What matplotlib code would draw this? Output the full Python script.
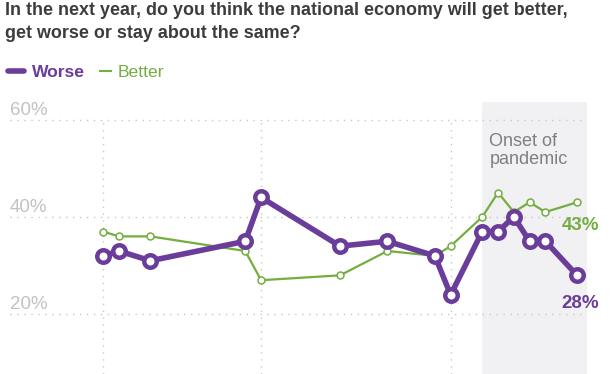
import matplotlib
matplotlib.use("Agg")
import matplotlib.pyplot as plt
from matplotlib.lines import Line2D

plt.rcParams['font.family'] = ['Liberation Sans', 'DejaVu Sans']

# Survey waves (months from first wave) and shares of respondents
months = [0, 1, 3, 9, 10, 15, 18, 21, 22, 24, 25, 26, 27, 28, 30]
worse = [32, 33, 31, 35, 44, 34, 35, 32, 24, 37, 37, 40, 35, 35, 28]
better = [37, 36, 36, 33, 27, 28, 33, 32, 34, 40, 45, 41, 43, 41, 43]
pandemic_start = 24
y_ticks = [20, 40, 60]
y_tick_labels = ['20%', '40%', '60%']
year_lines = [0, 10, 22]
title_lines = ['In the next year, do you think the national economy will get better,',
               'get worse or stay about the same?']

PURPLE = '#6a3d9a'
GREEN = '#74ad40'
GRID = '#c8c8c8'

W, H = 612, 374
fig = plt.figure(figsize=(W / 100, H / 100), dpi=100)


def fx(px):
    return px / W


def fy(py):
    return 1 - py / H


# axes: x 10..587 px, y 102..374 px
ax = fig.add_axes([fx(10), 0, fx(587) - fx(10), 1 - 102 / H])
ax.set_xlim(-5.89, 30.63)
ax.set_ylim(7.74, 63.6)
ax.axis('off')

# pandemic shading
ax.axvspan(pandemic_start, 31, color='#f1f1f4', zorder=0, lw=0)
ax.text(pandemic_start + 0.45, 50.9, 'Onset of\npandemic', fontsize=13,
        color='#7f7f7f', ha='left', va='baseline', linespacing=1.05)

# gridlines
for v, lab in zip(y_ticks, y_tick_labels):
    ax.axhline(v, color=GRID, lw=1, ls=(0, (1, 4)), zorder=1)
    ax.annotate(lab, (-5.89, v), xytext=(0, 3.5), textcoords='offset points',
                fontsize=13.5, color='#c2c2c2', ha='left', va='baseline')
ax.vlines(year_lines, 7.74, 60, color=GRID, lw=1, ls=(0, (1, 4)), zorder=1)

# series
ax.plot(months, better, color=GREEN, lw=1.6, marker='o', ms=5,
        mfc='white', mec=GREEN, mew=1.1, zorder=3)
ax.plot(months, worse, color=PURPLE, lw=4, marker='o', ms=9,
        mfc='white', mec=PURPLE, mew=3.2, zorder=4, solid_joinstyle='round')

# end labels
ax.annotate('%d%%' % better[-1], (months[-1], better[-1]), xytext=(16, -17),
            textcoords='offset points', fontsize=13.5, fontweight='bold',
            color=GREEN, ha='right', va='center', annotation_clip=False)
ax.annotate('%d%%' % worse[-1], (months[-1], worse[-1]), xytext=(16, -20),
            textcoords='offset points', fontsize=13.5, fontweight='bold',
            color=PURPLE, ha='right', va='center', annotation_clip=False)

# title
for i, line in enumerate(title_lines):
    fig.text(fx(5), fy(15 + 23.5 * i), line, fontsize=12.9, fontweight='bold',
             color='#3c3c3c', ha='left', va='baseline')

# legend
fig.add_artist(Line2D([fx(8), fx(24)], [fy(71), fy(71)], color=PURPLE, lw=4,
                      solid_capstyle='round'))
fig.text(fx(32), fy(77), 'Worse', fontsize=12.6, fontweight='bold',
         color=PURPLE, ha='left', va='baseline')
fig.add_artist(Line2D([fx(100), fx(111)], [fy(71), fy(71)], color=GREEN, lw=1.5))
fig.text(fx(118), fy(77), 'Better', fontsize=12.6, color=GREEN,
         ha='left', va='baseline')

fig.savefig('out.png', dpi=100)
